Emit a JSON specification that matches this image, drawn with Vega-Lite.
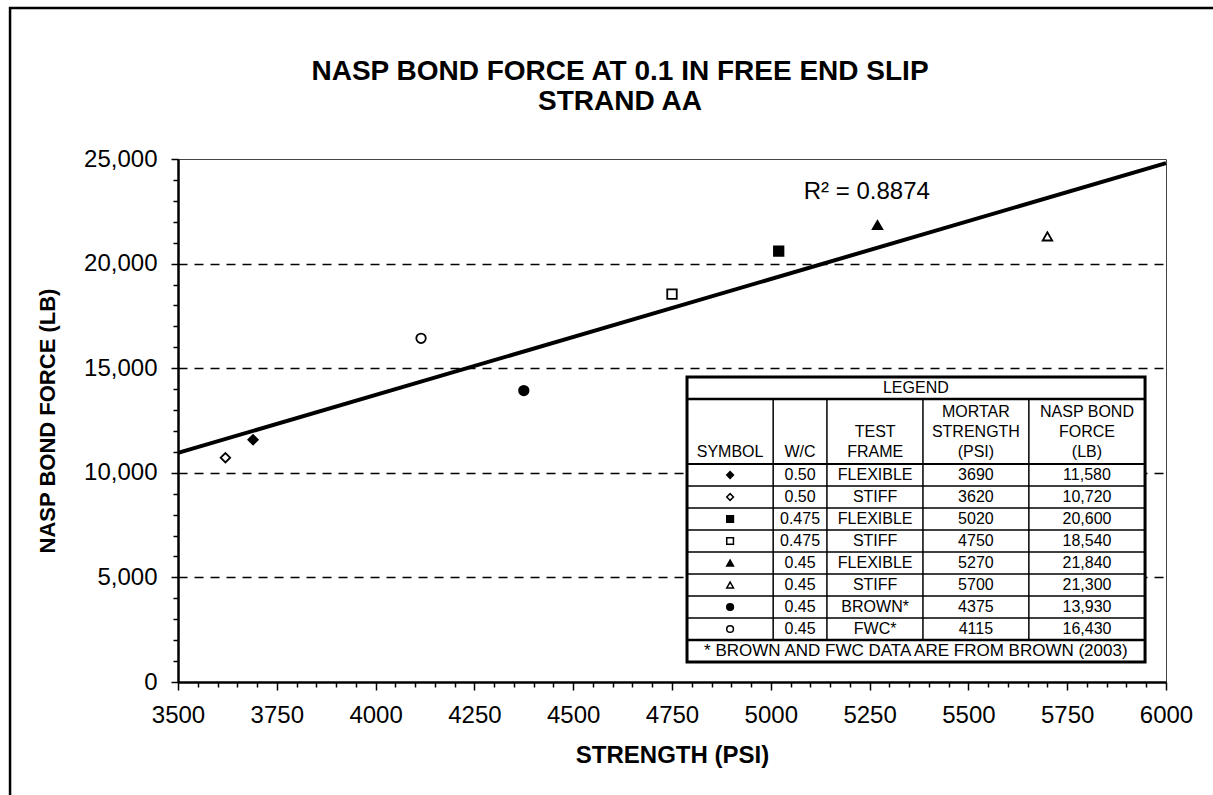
{
  "$schema": "https://vega.github.io/schema/vega-lite/v6.json",
  "width": 988,
  "height": 523,
  "autosize": "none",
  "padding": {"left": 178, "top": 159, "right": 47, "bottom": 113},
  "background": "white",
  "config": {
    "font": "Liberation Sans",
    "view": {"stroke": "#444", "strokeWidth": 1},
    "axis": {
      "labelFont": "Liberation Sans",
      "titleFont": "Liberation Sans",
      "labelColor": "black",
      "titleColor": "black",
      "domainColor": "black",
      "tickColor": "black",
      "titleFontWeight": "bold",
      "labelFontSize": 24,
      "labelFlush": false,
      "labelOverlap": false,
      "domainWidth": 2.5,
      "tickWidth": 1.5
    },
    "axisX": {
      "tickCount": 50,
      "labelExpr": "datum.value % 250 === 0 ? format(datum.value, 'd') : ''",
      "tickSize": {"condition": {"test": "datum.value % 250 === 0", "value": 8}, "value": 5},
      "labelPadding": 13,
      "grid": false,
      "titleFontSize": 24,
      "titlePadding": 16
    },
    "axisY": {
      "tickCount": 25,
      "labelExpr": "datum.value % 5000 === 0 ? format(datum.value, ',') : ''",
      "tickSize": {"condition": {"test": "datum.value % 5000 === 0", "value": 7}, "value": 5},
      "labelPadding": 14,
      "titleFontSize": 22,
      "titlePadding": 24
    },
    "text": {"font": "Liberation Sans", "color": "black"}
  },
  "title": {
    "text": ["NASP BOND FORCE AT 0.1 IN FREE END SLIP", "STRAND AA"],
    "font": "Liberation Sans",
    "fontSize": 28,
    "fontWeight": "bold",
    "color": "black",
    "anchor": "middle",
    "frame": "group",
    "dx": -52,
    "offset": -109,
    "lineHeight": 30
  },
  "datasets": {
    "pts": [
      {"series": "0.50 FLEXIBLE", "wc": "0.50", "frame": "FLEXIBLE", "psi": 3690, "lb": 11580},
      {"series": "0.50 STIFF", "wc": "0.50", "frame": "STIFF", "psi": 3620, "lb": 10720},
      {"series": "0.475 FLEXIBLE", "wc": "0.475", "frame": "FLEXIBLE", "psi": 5020, "lb": 20600},
      {"series": "0.475 STIFF", "wc": "0.475", "frame": "STIFF", "psi": 4750, "lb": 18540},
      {"series": "0.45 FLEXIBLE", "wc": "0.45", "frame": "FLEXIBLE", "psi": 5270, "lb": 21840},
      {"series": "0.45 STIFF", "wc": "0.45", "frame": "STIFF", "psi": 5700, "lb": 21300},
      {"series": "0.45 BROWN*", "wc": "0.45", "frame": "BROWN*", "psi": 4375, "lb": 13930},
      {"series": "0.45 FWC*", "wc": "0.45", "frame": "FWC*", "psi": 4115, "lb": 16430}
    ]
  },
  "layer": [
    {
      "layer": [
        {
          "data": {"name": "pts"},
          "mark": {"type": "point", "filled": true, "size": 90, "stroke": "black", "strokeWidth": 1.8, "opacity": 1},
          "encoding": {
            "x": {
              "field": "psi",
              "type": "quantitative",
              "scale": {"domain": [3500, 6000], "nice": false, "zero": false},
              "axis": {"title": "STRENGTH (PSI)"}
            },
            "y": {
              "field": "lb",
              "type": "quantitative",
              "scale": {"domain": [0, 25000], "nice": false, "zero": false},
              "axis": {
                "title": "NASP BOND FORCE (LB)",
                "grid": true,
                "gridColor": "black",
                "gridWidth": 1.5,
                "gridDash": [9, 7],
                "gridOpacity": {"condition": {"test": "datum.value % 5000 === 0 && datum.value > 0 && datum.value < 25000", "value": 1}, "value": 0}
              }
            },
            "shape": {
              "field": "series",
              "type": "nominal",
              "legend": null,
              "scale": {
                "domain": ["0.50 FLEXIBLE", "0.50 STIFF", "0.475 FLEXIBLE", "0.475 STIFF", "0.45 FLEXIBLE", "0.45 STIFF", "0.45 BROWN*", "0.45 FWC*"],
                "range": ["diamond", "diamond", "square", "square", "triangle-up", "triangle-up", "circle", "circle"]
              }
            },
            "fill": {
              "field": "series",
              "type": "nominal",
              "legend": null,
              "scale": {
                "domain": ["0.50 FLEXIBLE", "0.50 STIFF", "0.475 FLEXIBLE", "0.475 STIFF", "0.45 FLEXIBLE", "0.45 STIFF", "0.45 BROWN*", "0.45 FWC*"],
                "range": ["black", "white", "black", "white", "black", "white", "black", "white"]
              }
            }
          }
        },
        {
          "data": {"name": "pts"},
          "transform": [{"regression": "lb", "on": "psi", "extent": [3500, 6000]}],
          "mark": {"type": "line", "color": "black", "strokeWidth": 4},
          "encoding": {
            "x": {"field": "psi", "type": "quantitative", "title": "STRENGTH (PSI)"},
            "y": {"field": "lb", "type": "quantitative", "title": "NASP BOND FORCE (LB)"}
          }
        },
        {
          "data": {"values": [{}]},
          "mark": {"type": "text", "fontSize": 24, "align": "center", "baseline": "middle"},
          "encoding": {
            "x": {"datum": 5243, "type": "quantitative"},
            "y": {"datum": 23420, "type": "quantitative"},
            "text": {"value": "R² = 0.8874"}
          }
        },
        {
          "data": {"values": [{}]},
          "mark": {"type": "rect", "fill": null, "fillOpacity": 0, "stroke": "black", "strokeWidth": 2.5, "clip": false},
          "encoding": {
            "x": {"datum": 3075, "type": "quantitative"},
            "x2": {"datum": 6300},
            "y": {"datum": 32218, "type": "quantitative"},
            "y2": {"datum": -5640}
          }
        }
      ]
    },
    {
      "layer": [
        {
          "data": {"values": [{}]},
          "mark": {"type": "rect", "fill": "white", "stroke": "black", "strokeWidth": 3},
          "encoding": {
            "x": {"datum": 4788, "type": "quantitative"},
            "x2": {"datum": 5947},
            "y": {"datum": -3.45, "type": "quantitative", "axis": null, "scale": {"domain": [-13.364, 10.409], "reverse": true, "nice": false, "zero": false}},
            "y2": {"datum": 9.5}
          }
        },
        {
          "data": {"values": [{}]},
          "mark": {"type": "rule", "color": "black", "strokeWidth": 2.5},
          "encoding": {
            "x": {"datum": 4788, "type": "quantitative"},
            "x2": {"datum": 5947},
            "y": {"datum": -2.45, "type": "quantitative", "axis": null}
          }
        },
        {
          "data": {"values": [{}]},
          "mark": {"type": "rule", "color": "black", "strokeWidth": 2},
          "encoding": {
            "x": {"datum": 4788, "type": "quantitative"},
            "x2": {"datum": 5947},
            "y": {"datum": 0.5, "type": "quantitative", "axis": null}
          }
        },
        {
          "data": {"values": [{}]},
          "mark": {"type": "rule", "color": "black", "strokeWidth": 2.5},
          "encoding": {
            "x": {"datum": 4788, "type": "quantitative"},
            "x2": {"datum": 5947},
            "y": {"datum": 8.5, "type": "quantitative", "axis": null}
          }
        },
        {
          "data": {"name": "pts"},
          "transform": [{"window": [{"op": "row_number", "as": "row"}]}, {"filter": "datum.row > 1"}],
          "mark": {"type": "rule", "color": "black", "strokeWidth": 1.5, "yOffset": -11},
          "encoding": {
            "x": {"datum": 4788, "type": "quantitative"},
            "x2": {"datum": 5947},
            "y": {"field": "row", "type": "quantitative", "axis": null}
          }
        },
        {
          "data": {"values": [{}]},
          "mark": {"type": "rule", "color": "black", "strokeWidth": 1.5},
          "encoding": {
            "x": {"datum": 5006, "type": "quantitative"},
            "y": {"datum": -2.45, "type": "quantitative", "axis": null},
            "y2": {"datum": 8.5}
          }
        },
        {
          "data": {"values": [{}]},
          "mark": {"type": "rule", "color": "black", "strokeWidth": 1.5},
          "encoding": {
            "x": {"datum": 5142, "type": "quantitative"},
            "y": {"datum": -2.45, "type": "quantitative", "axis": null},
            "y2": {"datum": 8.5}
          }
        },
        {
          "data": {"values": [{}]},
          "mark": {"type": "rule", "color": "black", "strokeWidth": 1.5},
          "encoding": {
            "x": {"datum": 5385, "type": "quantitative"},
            "y": {"datum": -2.45, "type": "quantitative", "axis": null},
            "y2": {"datum": 8.5}
          }
        },
        {
          "data": {"values": [{}]},
          "mark": {"type": "rule", "color": "black", "strokeWidth": 1.5},
          "encoding": {
            "x": {"datum": 5653, "type": "quantitative"},
            "y": {"datum": -2.45, "type": "quantitative", "axis": null},
            "y2": {"datum": 8.5}
          }
        },
        {
          "data": {"values": [{}]},
          "mark": {"type": "text", "fontSize": 16, "align": "center", "baseline": "middle"},
          "encoding": {
            "x": {"datum": 5367, "type": "quantitative"},
            "y": {"datum": -2.95, "type": "quantitative", "axis": null},
            "text": {"value": "LEGEND"}
          }
        },
        {
          "data": {"values": [{}]},
          "mark": {"type": "text", "fontSize": 16, "align": "center", "baseline": "middle"},
          "encoding": {
            "x": {"datum": 4897, "type": "quantitative"},
            "y": {"datum": -0.05, "type": "quantitative", "axis": null},
            "text": {"value": "SYMBOL"}
          }
        },
        {
          "data": {"values": [{}]},
          "mark": {"type": "text", "fontSize": 16, "align": "center", "baseline": "middle"},
          "encoding": {
            "x": {"datum": 5074, "type": "quantitative"},
            "y": {"datum": -0.05, "type": "quantitative", "axis": null},
            "text": {"value": "W/C"}
          }
        },
        {
          "data": {"values": [{}]},
          "mark": {"type": "text", "fontSize": 16, "align": "center", "baseline": "middle"},
          "encoding": {
            "x": {"datum": 5264, "type": "quantitative"},
            "y": {"datum": -0.95, "type": "quantitative", "axis": null},
            "text": {"value": "TEST"}
          }
        },
        {
          "data": {"values": [{}]},
          "mark": {"type": "text", "fontSize": 16, "align": "center", "baseline": "middle"},
          "encoding": {
            "x": {"datum": 5264, "type": "quantitative"},
            "y": {"datum": -0.05, "type": "quantitative", "axis": null},
            "text": {"value": "FRAME"}
          }
        },
        {
          "data": {"values": [{}]},
          "mark": {"type": "text", "fontSize": 16, "align": "center", "baseline": "middle"},
          "encoding": {
            "x": {"datum": 5519, "type": "quantitative"},
            "y": {"datum": -1.85, "type": "quantitative", "axis": null},
            "text": {"value": "MORTAR"}
          }
        },
        {
          "data": {"values": [{}]},
          "mark": {"type": "text", "fontSize": 16, "align": "center", "baseline": "middle"},
          "encoding": {
            "x": {"datum": 5519, "type": "quantitative"},
            "y": {"datum": -0.95, "type": "quantitative", "axis": null},
            "text": {"value": "STRENGTH"}
          }
        },
        {
          "data": {"values": [{}]},
          "mark": {"type": "text", "fontSize": 16, "align": "center", "baseline": "middle"},
          "encoding": {
            "x": {"datum": 5519, "type": "quantitative"},
            "y": {"datum": -0.05, "type": "quantitative", "axis": null},
            "text": {"value": "(PSI)"}
          }
        },
        {
          "data": {"values": [{}]},
          "mark": {"type": "text", "fontSize": 16, "align": "center", "baseline": "middle"},
          "encoding": {
            "x": {"datum": 5800, "type": "quantitative"},
            "y": {"datum": -1.85, "type": "quantitative", "axis": null},
            "text": {"value": "NASP BOND"}
          }
        },
        {
          "data": {"values": [{}]},
          "mark": {"type": "text", "fontSize": 16, "align": "center", "baseline": "middle"},
          "encoding": {
            "x": {"datum": 5800, "type": "quantitative"},
            "y": {"datum": -0.95, "type": "quantitative", "axis": null},
            "text": {"value": "FORCE"}
          }
        },
        {
          "data": {"values": [{}]},
          "mark": {"type": "text", "fontSize": 16, "align": "center", "baseline": "middle"},
          "encoding": {
            "x": {"datum": 5800, "type": "quantitative"},
            "y": {"datum": -0.05, "type": "quantitative", "axis": null},
            "text": {"value": "(LB)"}
          }
        },
        {
          "data": {"name": "pts"},
          "transform": [{"window": [{"op": "row_number", "as": "row"}]}],
          "mark": {"type": "point", "filled": true, "size": 45, "stroke": "black", "strokeWidth": 1.5, "opacity": 1},
          "encoding": {
            "x": {"datum": 4897, "type": "quantitative"},
            "y": {"field": "row", "type": "quantitative", "axis": null},
            "shape": {"field": "series", "type": "nominal", "legend": null},
            "fill": {"field": "series", "type": "nominal", "legend": null}
          }
        },
        {
          "data": {"name": "pts"},
          "transform": [{"window": [{"op": "row_number", "as": "row"}]}],
          "mark": {"type": "text", "fontSize": 16, "align": "center", "baseline": "middle"},
          "encoding": {
            "x": {"datum": 5074, "type": "quantitative"},
            "y": {"field": "row", "type": "quantitative", "axis": null},
            "text": {"field": "wc", "type": "nominal"}
          }
        },
        {
          "data": {"name": "pts"},
          "transform": [{"window": [{"op": "row_number", "as": "row"}]}],
          "mark": {"type": "text", "fontSize": 16, "align": "center", "baseline": "middle"},
          "encoding": {
            "x": {"datum": 5264, "type": "quantitative"},
            "y": {"field": "row", "type": "quantitative", "axis": null},
            "text": {"field": "frame", "type": "nominal"}
          }
        },
        {
          "data": {"name": "pts"},
          "transform": [{"window": [{"op": "row_number", "as": "row"}]}],
          "mark": {"type": "text", "fontSize": 16, "align": "center", "baseline": "middle"},
          "encoding": {
            "x": {"datum": 5519, "type": "quantitative"},
            "y": {"field": "row", "type": "quantitative", "axis": null},
            "text": {"field": "psi", "type": "quantitative", "format": "d"}
          }
        },
        {
          "data": {"name": "pts"},
          "transform": [{"window": [{"op": "row_number", "as": "row"}]}],
          "mark": {"type": "text", "fontSize": 16, "align": "center", "baseline": "middle"},
          "encoding": {
            "x": {"datum": 5800, "type": "quantitative"},
            "y": {"field": "row", "type": "quantitative", "axis": null},
            "text": {"field": "lb", "type": "quantitative", "format": ","}
          }
        },
        {
          "data": {"values": [{}]},
          "mark": {"type": "text", "fontSize": 17, "align": "center", "baseline": "middle"},
          "encoding": {
            "x": {"datum": 5367, "type": "quantitative"},
            "y": {"datum": 9, "type": "quantitative", "axis": null},
            "text": {"value": "* BROWN AND FWC DATA ARE FROM BROWN (2003)"}
          }
        }
      ]
    }
  ],
  "resolve": {"scale": {"y": "independent"}}
}
